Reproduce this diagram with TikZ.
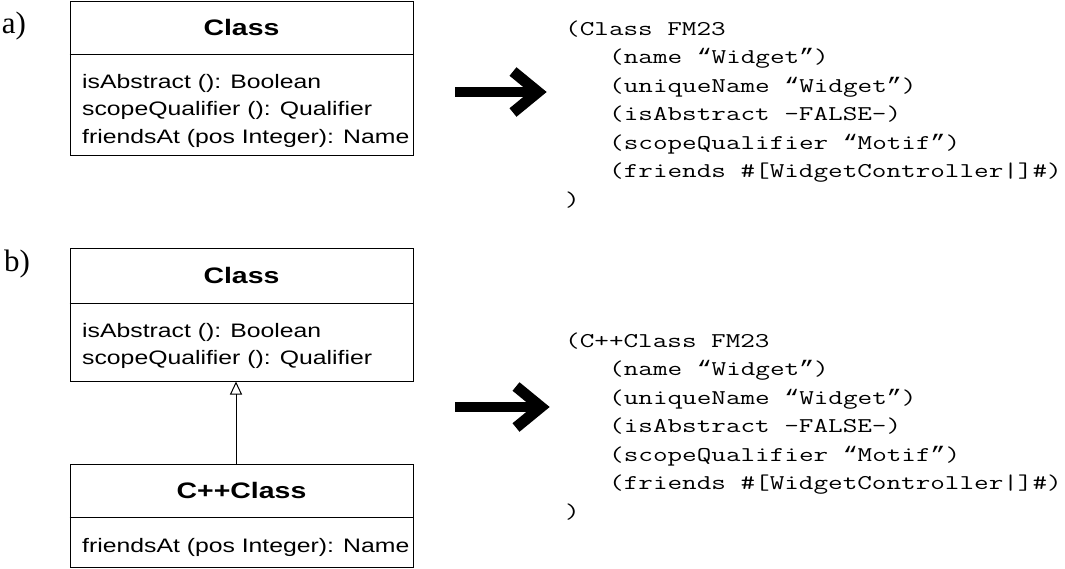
\documentclass[tikz,border=0pt]{standalone}
\usepackage{fontspec}
\usetikzlibrary{arrows.meta}
\newfontfamily\umlfont{Liberation Sans}[FakeStretch=1.27]
\newfontfamily\codefont{Latin Modern Mono}[FakeStretch=1.35]
\newfontfamily\quotefont{Liberation Mono}[FakeStretch=1.181]
\newfontfamily\lblfont{Liberation Serif}
\newcommand\qopen{{\quotefont “}}
\newcommand\qclose{{\quotefont ”}}
\begin{document}
\begin{tikzpicture}[x=1pt,y=-1pt,
  umlbox/.style={draw,line width=1pt,minimum width=343pt,inner sep=0pt},
  umltitle/.style={font=\umlfont\bfseries\fontsize{22.4}{25}\selectfont,inner sep=0pt,anchor=center},
  umltext/.style={font=\umlfont\fontsize{19.5}{22}\selectfont,inner sep=0pt,anchor=base west},
  codetext/.style={font=\codefont\fontsize{21}{24}\selectfont,inner sep=0pt,anchor=base west},
  partlabel/.style={font=\lblfont\fontsize{31}{34}\selectfont,inner sep=0pt,anchor=center},
  bigshaft/.style={line width=10pt},
  bighead/.style={line width=11pt,miter limit=10,line join=miter},
  inherit/.style={line width=1pt,-{Triangle[open,length=13pt,width=12pt,line width=1pt]}}
]
\useasboundingbox (0,0) rectangle (1065,568);

% labels
\node[partlabel] (la) at (14,26) {a)};
\node[partlabel] (lb) at (17,264) {b)};

% box a
\node[umlbox,minimum height=154pt] (A) at (241.5,78) {};
\draw[line width=1pt] (A.west |- 0,54) coordinate (Ad1) -- (A.east |- 0,54) coordinate (Ad2);
\node[umltitle] (At) at (241.5,27.5) {Class};
\node[umltext] (A1) at (82,88) {isAbstract (): Boolean};
\node[umltext] (A2) at (82,115.5) {scopeQualifier (): Qualifier};
\node[umltext] (A3) at (82,143) {friendsAt (pos Integer): Name};

% box b1
\node[umlbox,minimum height=133pt] (B) at (241.5,314.5) {};
\draw[line width=1pt] (B.west |- 0,303) coordinate (Bd1) -- (B.east |- 0,303) coordinate (Bd2);
\node[umltitle] (Bt) at (241.5,275.5) {Class};
\node[umltext] (B1) at (82,337) {isAbstract (): Boolean};
\node[umltext] (B2) at (82,364) {scopeQualifier (): Qualifier};

% box b2
\node[umlbox,minimum height=103pt] (C) at (241.5,515.5) {};
\draw[line width=1pt] (C.west |- 0,517) coordinate (Cd1) -- (C.east |- 0,517) coordinate (Cd2);
\node[umltitle] (Ct) at (241.5,490.5) {C++Class};
\node[umltext] (C1) at (82,552) {friendsAt (pos Integer): Name};

% generalisation
\draw[inherit] ([xshift=-5.5pt]C.north) -- ([xshift=-5.5pt]B.south);

% big arrows
\coordinate (ha) at (455,92);
\coordinate (ta) at (547,92);
\draw[bigshaft] (ha) -- ([xshift=-12pt]ta);
\draw[bighead] ([shift={(-34,-20.5)}]ta) -- ([xshift=-9pt]ta) -- ([shift={(-34,20.5)}]ta);
\coordinate (hb) at (455,407);
\coordinate (tb) at (550,407);
\draw[bigshaft] (hb) -- ([xshift=-12pt]tb);
\draw[bighead] ([shift={(-34,-20.5)}]tb) -- ([xshift=-9pt]tb) -- ([shift={(-34,20.5)}]tb);

% code a
\node[codetext] (ca1) at (565,35) {(Class FM23};
\node[codetext] (ca2) at (609,63.5) {(name \qopen Widget\qclose)};
\node[codetext] (ca3) at (609,92) {(uniqueName \qopen Widget\qclose)};
\node[codetext] (ca4) at (609,120.5) {(isAbstract -FALSE-)};
\node[codetext] (ca5) at (609,149) {(scopeQualifier \qopen Motif\qclose)};
\node[codetext] (ca6) at (609,177.5) {(friends \#[WidgetController|]\#)};
\node[codetext] (ca7) at (565,206) {)};

% code b
\node[codetext] (cb1) at (565,347) {(C++Class FM23};
\node[codetext] (cb2) at (609,375.5) {(name \qopen Widget\qclose)};
\node[codetext] (cb3) at (609,404) {(uniqueName \qopen Widget\qclose)};
\node[codetext] (cb4) at (609,432.5) {(isAbstract -FALSE-)};
\node[codetext] (cb5) at (609,461) {(scopeQualifier \qopen Motif\qclose)};
\node[codetext] (cb6) at (609,489.5) {(friends \#[WidgetController|]\#)};
\node[codetext] (cb7) at (565,518) {)};
\end{tikzpicture}
\end{document}
